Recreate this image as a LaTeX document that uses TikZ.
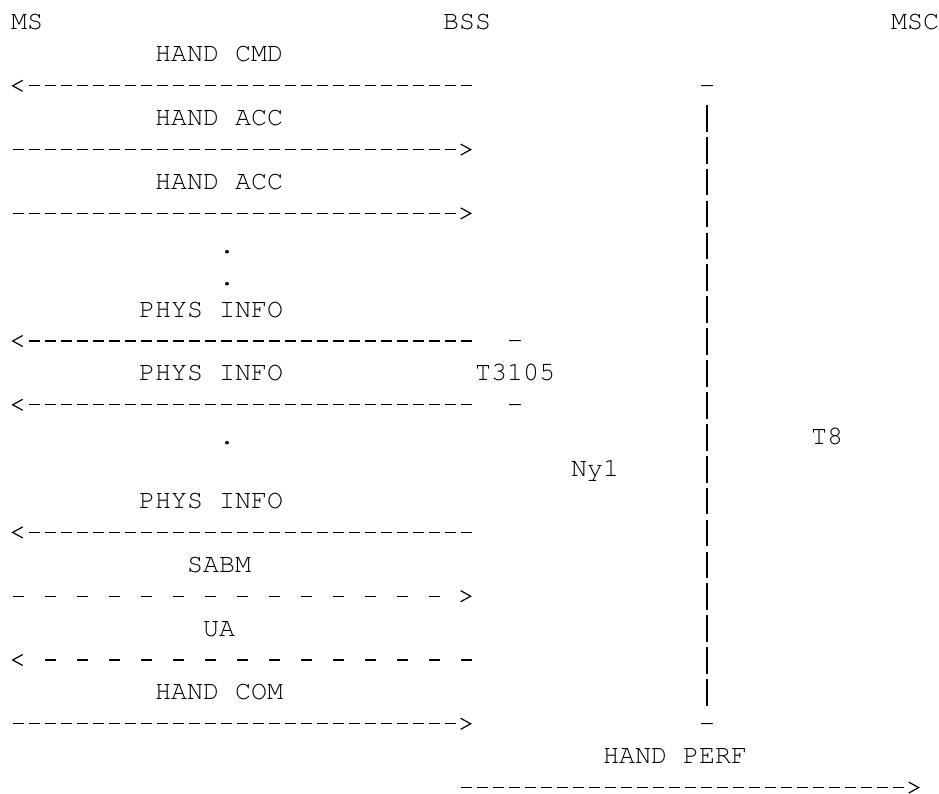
\documentclass[tikz,border=0pt]{standalone}
\usepackage[T1]{fontenc}
\usepackage{courier}

\begin{document}
\begin{tikzpicture}[
  x=8pt, y=-15.95pt,
  font=\fontencoding{T1}\fontfamily{pcr}\fontsize{13.33pt}{16pt}\selectfont,
  txt/.style={inner sep=0pt, anchor=base west},
  msg/.style={line width=0.6pt, dash pattern=on 5.5pt off 2.5pt,
              shorten <=1.25pt, shorten >=9.25pt},
  msgsp/.style={msg, dash pattern=on 5.5pt off 10.5pt, shorten >=17.25pt},
  bar/.style={line width=0.6pt, dash pattern=on 13.35pt off 2.6pt,
              shorten <=5.6pt, shorten >=12.95pt},
  rhead/.pic={\draw[solid, line width=0.6pt, shorten <=0pt, shorten >=0pt]
                (-7pt,2.75pt) -- (-2pt,0pt) -- (-7pt,-2.75pt);},
  lhead/.pic={\draw[solid, line width=0.6pt, shorten <=0pt, shorten >=0pt]
                (6pt,2.75pt) -- (1pt,0pt) -- (6pt,-2.75pt);}
]
  \path[fill=white, use as bounding box] (-0.669,-0.94) rectangle (58.02,23.95);

  % entities
  \node[txt] (ms)  at (0,0)  {MS};
  \node[txt] (bss) at (27,0) {BSS};
  \node[txt] (msc) at (55,0) {MSC};

  % lifeline points, one per row
  \foreach \r in {2,4,...,22} {
    \coordinate (ms\r)  at (0,\r-0.25);
    \coordinate (bss\r) at (29,\r-0.25);
  }
  \coordinate (bssb) at (28,23.75);
  \coordinate (mscb) at (57,23.75);

  % messages
  \node[txt] (cmd)   at (9,1)  {HAND CMD};
  \node[txt] (acc1)  at (9,3)  {HAND ACC};
  \node[txt] (acc2)  at (9,5)  {HAND ACC};
  \node[txt] (dot1)  at (13,7) {.};
  \node[txt] (dot2)  at (13,8) {.};
  \node[txt] (phys1) at (8,9)  {PHYS INFO};
  \node[txt] (phys2) at (8,11) {PHYS INFO};
  \node[txt] (dot3)  at (13,13) {.};
  \node[txt] (phys3) at (8,15) {PHYS INFO};
  \node[txt] (sabm)  at (11,17) {SABM};
  \node[txt] (ua)    at (12,19) {UA};
  \node[txt] (com)   at (9,21) {HAND COM};
  \node[txt] (perf)  at (37,23) {HAND PERF};

  \draw[msg]   (bss2)  -- (ms2)  pic {lhead};
  \draw[msg]   (ms4)   -- (bss4) pic {rhead};
  \draw[msg]   (ms6)   -- (bss6) pic {rhead};
  \draw[msg]   (bss10) -- (ms10) pic {lhead};
  \draw[msg]   (bss12) -- (ms12) pic {lhead};
  \draw[msg]   (bss16) -- (ms16) pic {lhead};
  \draw[msgsp] (ms18)  -- (bss18) pic {rhead};
  \draw[msgsp] (bss20) -- (ms20) pic {lhead};
  \draw[msg]   (ms22)  -- (bss22) pic {rhead};
  \draw[msg]   (bssb)  -- (mscb) pic {rhead};

  % timers
  \node[txt] (t3105a) at (31,10) {-};
  \node[txt] (t3105)  at (29,11) {T3105};
  \node[txt] (t3105b) at (31,12) {-};
  \node[txt] (ny1)    at (35,14) {Ny1};

  \node[txt] (t8a) at (43,2)  {-};
  \node[txt] (t8b) at (43,22) {-};
  \node[txt] (t8)  at (50,13) {T8};
  \draw[bar] (t8a.base) -- (t8b.base);
\end{tikzpicture}
\end{document}
